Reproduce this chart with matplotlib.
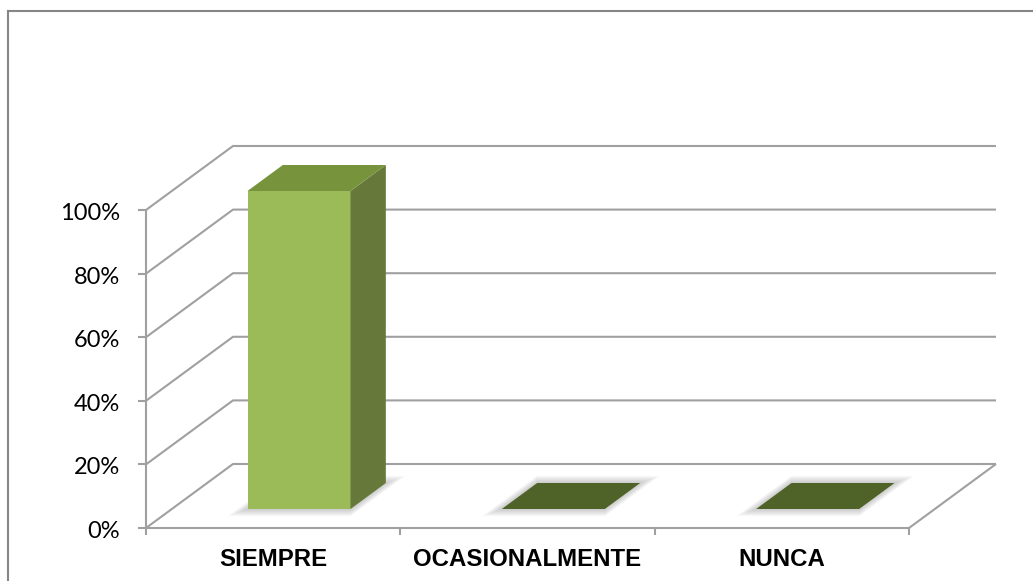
import matplotlib.pyplot as plt
from matplotlib.patches import Polygon
from matplotlib.lines import Line2D
import numpy as np

# Data
categories = ["SIEMPRE", "OCASIONALMENTE", "NUNCA"]
values = [1.00, 0.00, 0.00]
y_ticks = [0.0, 0.2, 0.4, 0.6, 0.8, 1.0]
y_tick_labels = ["0%", "20%", "40%", "60%", "80%", "100%"]

# Colours (Excel olive green)
front_col = "#9BBB59"
top_col = "#77933C"
side_col = "#66793A"
flat_col = "#4F6228"
grid_col = "#A0A0A0"

W, H = 1033, 581
fig = plt.figure(figsize=(W / 100, H / 100), dpi=100)
ax = fig.add_axes([0, 0, 1, 1])
ax.set_axis_off()

# pixel geometry of the front plane
x0_px, x3_px = 146, 909          # category axis ends
v0_px, v1_px = 528, 210          # 0% and 100%
px_cat = (x3_px - x0_px) / len(categories)
px_val = v0_px - v1_px
ax.set_xlim(-x0_px / px_cat, (W - x0_px) / px_cat)
ax.set_ylim((v0_px - H) / px_val, v0_px / px_val)

# oblique depth offset (full depth)
DX = 87 / px_cat
DY = 64 / px_val


def proj(x, v, d):
    return (x + d * DX, v + d * DY)


n = len(categories)
lkw = dict(color=grid_col, lw=1.5, zorder=1, solid_capstyle="butt")

# walls gridlines
for v in y_ticks:
    p0, p1, p2 = proj(0, v, 0), proj(0, v, 1), proj(n, v, 1)
    ax.plot([p0[0], p1[0], p2[0]], [p0[1], p1[1], p2[1]], **lkw)
    # tick marks
    ax.plot([p0[0] - 8 / px_cat, p0[0]], [v, v], **lkw)

# floor front and right edges
f0, f1, f2 = proj(0, 0, 0), proj(n, 0, 0), proj(n, 0, 1)
ax.plot([f0[0], f1[0], f2[0]], [f0[1], f1[1], f2[1]], **lkw)
# value axis line
ax.plot([0, 0], [0, 1], **lkw)
# category ticks
for i in range(n + 1):
    ax.plot([i, i], [0, -7 / px_val], **lkw)

# bars
bw = 0.405
d0, d1 = 0.297, 0.703
for i, v in enumerate(values):
    c = i + 0.5
    xl, xr = c - bw / 2, c + bw / 2
    # soft shadow on the floor
    for e in range(10, 0, -1):
        ex = e / px_cat
        ed = e / 90
        pts = [proj(xl - ex, 0, d0 - ed), proj(xr + ex, 0, d0 - ed),
               proj(xr + ex, 0, d1 + ed), proj(xl - ex, 0, d1 + ed)]
        ax.add_patch(Polygon(pts, closed=True, facecolor="#808080",
                             edgecolor="none", alpha=0.045, zorder=2))
    if v > 0:
        front = [proj(xl, 0, d0), proj(xr, 0, d0), proj(xr, v, d0), proj(xl, v, d0)]
        side = [proj(xr, 0, d0), proj(xr, 0, d1), proj(xr, v, d1), proj(xr, v, d0)]
        top = [proj(xl, v, d0), proj(xr, v, d0), proj(xr, v, d1), proj(xl, v, d1)]
        ax.add_patch(Polygon(front, closed=True, facecolor=front_col, edgecolor="none", zorder=3))
        ax.add_patch(Polygon(side, closed=True, facecolor=side_col, edgecolor="none", zorder=3))
        ax.add_patch(Polygon(top, closed=True, facecolor=top_col, edgecolor="none", zorder=3))
    else:
        top = [proj(xl, v, d0), proj(xr, v, d0), proj(xr, v, d1), proj(xl, v, d1)]
        ax.add_patch(Polygon(top, closed=True, facecolor=flat_col, edgecolor="none", zorder=3))

# value labels
for v, lab in zip(y_ticks, y_tick_labels):
    ax.text((120 - x0_px) / px_cat, v - 10 / px_val, lab, ha="right", va="baseline",
            fontsize=17, family=["Lato", "DejaVu Sans"], color="#000000")

# category labels
for i, lab in enumerate(categories):
    ax.text(i + 0.5, -38 / px_val, lab, ha="center", va="baseline",
            fontsize=17.3, fontweight="bold", family=["Liberation Sans", "DejaVu Sans"])

# chart area border (only top and left fall inside the picture)
bx, by = 8 / W, 1 - 11 / H
fig.add_artist(Line2D([bx, bx], [0, by], transform=fig.transFigure, color="#868686", lw=1.5))
fig.add_artist(Line2D([bx, 1], [by, by], transform=fig.transFigure, color="#868686", lw=1.5))

fig.savefig("out.png", dpi=100)
